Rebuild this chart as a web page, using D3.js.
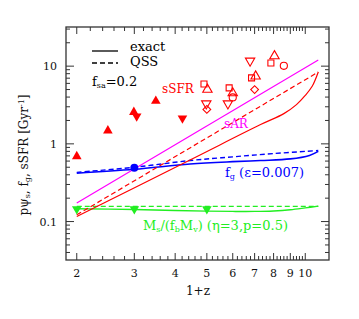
<!DOCTYPE html>
<html>
<head>
<meta charset="utf-8">
<script src="https://cdn.jsdelivr.net/npm/d3@7"></script>
<style>
body { margin: 0; background: #fff; }
text { font-family: "DejaVu Serif", serif; }
</style>
</head>
<body>
<script>
// curves: [1+z, value]
var sarLine      = [[2, 0.173], [10.96, 12.0]];
var ssfrQss      = [[2, 0.122], [10.96, 8.4]];
var ssfrExact    = [[2, 0.116], [4.44, 0.62], [7.3, 1.77], [8.6, 2.45], [9.4, 3.2], [10.0, 4.2], [10.5, 5.5], [10.96, 8.4]];
var fgQss        = [[2, 0.43], [3, 0.5], [4.44, 0.61], [6, 0.68], [8, 0.75], [10.96, 0.82]];
var fgExact      = [[2, 0.418], [3, 0.47], [4.44, 0.55], [6, 0.59], [7.3, 0.61], [9, 0.64], [10.3, 0.71], [10.96, 0.8]];
var msQss        = [[2, 0.157], [10.96, 0.157]];
var msExact      = [[2, 0.146], [3, 0.143], [4, 0.139], [5, 0.136], [6, 0.135], [7, 0.135], [8, 0.137], [9, 0.142], [10, 0.15], [10.96, 0.158]];

// observed sSFR points
var obsFilledUp   = [[2, 0.69], [2.49, 1.48], [2.99, 2.56], [3.49, 3.55]];
var obsFilledDown = [[3.05, 2.27], [4.21, 2.14]];
var obsSquare     = [[4.9, 5.9], [5.85, 5.25], [6.85, 7.06], [7.85, 11.0]];
var obsUp         = [[5.02, 5.0], [6.0, 4.5], [7.05, 7.4], [8.05, 13.5]];
var obsDown       = [[4.98, 3.3], [5.8, 3.3], [6.78, 11.7]];
var obsDiamond    = [[5.0, 2.77], [7.0, 5.0]];
var obsCircle     = [[6.0, 3.95], [8.6, 10.1]];

var fgPoint   = [[3, 0.494]];
var msPoints  = [[2, 0.145], [3, 0.145], [5, 0.145]];

var xTickLabels = [2, 3, 4, 5, 6, 7, 8, 9, 10];
var yTickLabels = [0.1, 1, 10];

var W = 359, H = 319;
var margin = {top: 27, right: 30, bottom: 59, left: 66};
var width = W - margin.left - margin.right,
    height = H - margin.top - margin.bottom;

var svg = d3.select("body").append("svg")
    .attr("width", W).attr("height", H);
var g = svg.append("g")
    .attr("transform", "translate(" + margin.left + "," + margin.top + ")");

var x = d3.scaleLog().domain([1.854, 11.82]).range([0, width]);
var y = d3.scaleLog().domain([0.032, 31.9]).range([height, 0]);

var red = "#ff0000", mag = "#ff00ff", blue = "#0000ff", green = "#22ee22", ink = "#333";

// ticks
var xMinor = [];
for (var v = 2; v <= 10.001; v += 0.2) xMinor.push(+v.toFixed(1));
var yMinor = [];
[0.01, 0.1, 1, 10].forEach(function(dec) {
  for (var k = 1; k <= 9; k++) {
    var t = dec * k;
    if (t >= 0.032 && t <= 31.9) yMinor.push(t);
  }
});

function isMajorX(t) { return Math.abs(t - Math.round(t)) < 1e-6; }
function isMajorY(t) { return yTickLabels.some(function(m) { return Math.abs(t / m - 1) < 1e-6; }); }

xMinor.forEach(function(t) {
  var L = isMajorX(t) ? 7 : 4;
  g.append("line").attr("x1", x(t)).attr("x2", x(t)).attr("y1", height).attr("y2", height - L)
    .attr("stroke", ink).attr("stroke-width", 1);
  g.append("line").attr("x1", x(t)).attr("x2", x(t)).attr("y1", 0).attr("y2", L)
    .attr("stroke", ink).attr("stroke-width", 1);
});
yMinor.forEach(function(t) {
  var L = isMajorY(t) ? 8 : 4;
  g.append("line").attr("x1", 0).attr("x2", L).attr("y1", y(t)).attr("y2", y(t))
    .attr("stroke", ink).attr("stroke-width", 1);
  g.append("line").attr("x1", width).attr("x2", width - L).attr("y1", y(t)).attr("y2", y(t))
    .attr("stroke", ink).attr("stroke-width", 1);
});

g.selectAll(".xl").data(xTickLabels).enter().append("text")
  .attr("x", function(d) { return x(d); })
  .attr("y", height + 17)
  .attr("text-anchor", "middle")
  .style("font-size", "11px").attr("fill", "#111")
  .text(function(d) { return d; });

g.selectAll(".yl").data(yTickLabels).enter().append("text")
  .attr("x", -9)
  .attr("y", function(d) { return y(d) + 4; })
  .attr("text-anchor", "end")
  .style("font-size", "11px").attr("fill", "#111")
  .text(function(d) { return d; });

// frame
g.append("rect").attr("width", width).attr("height", height)
  .attr("fill", "none").attr("stroke", ink).attr("stroke-width", 1.3);

// lines
var line = d3.line()
  .x(function(d) { return x(d[0]); })
  .y(function(d) { return y(d[1]); })
  .curve(d3.curveCatmullRom.alpha(0.5));

function path(data, col, dash, w) {
  g.append("path").datum(data)
    .attr("d", line)
    .attr("fill", "none")
    .attr("stroke", col)
    .attr("stroke-width", w || 1.2)
    .attr("stroke-dasharray", dash ? "5,3" : null);
}

path(msQss, green, true);
path(msExact, green, false, 1.4);
path(fgQss, blue, true, 1.4);
path(fgExact, blue, false, 1.6);
path(sarLine, mag, false);
path(ssfrQss, red, true);
path(ssfrExact, red, false);

// markers
function sym(data, type, size, col, fill, rot) {
  g.selectAll(null).data(data).enter().append("path")
    .attr("d", d3.symbol().type(type).size(size))
    .attr("transform", function(d) {
      return "translate(" + x(d[0]) + "," + y(d[1]) + ")" + (rot ? " rotate(" + rot + ")" : "");
    })
    .attr("fill", fill ? col : "none")
    .attr("stroke", col)
    .attr("stroke-width", fill ? 0 : 1.1);
}

sym(obsFilledUp, d3.symbolTriangle, 40, red, true);
sym(obsFilledDown, d3.symbolTriangle, 40, red, true, 180);
sym(obsSquare, d3.symbolSquare, 36, red, false);
sym(obsUp, d3.symbolTriangle, 38, red, false);
sym(obsDown, d3.symbolTriangle, 38, red, false, 180);
sym(obsDiamond, d3.symbolSquare, 30, red, false, 45);
sym(obsCircle, d3.symbolCircle, 40, red, false);
sym(fgPoint, d3.symbolCircle, 50, blue, true);
sym(msPoints, d3.symbolTriangle, 40, green, true, 180);

// legend
g.append("line").attr("x1", 92 - margin.left).attr("x2", 118 - margin.left)
  .attr("y1", 51 - margin.top).attr("y2", 51 - margin.top).attr("stroke", "#000").attr("stroke-width", 1.3);
g.append("line").attr("x1", 92 - margin.left).attr("x2", 118 - margin.left)
  .attr("y1", 63 - margin.top).attr("y2", 63 - margin.top).attr("stroke", "#000").attr("stroke-width", 1.3)
  .attr("stroke-dasharray", "5,3");

function label(tx, ty, col, parts, size) {
  var t = svg.append("text").attr("x", tx).attr("y", ty).attr("fill", col)
    .style("font-size", (size || 13) + "px");
  parts.forEach(function(p) {
    var s = t.append("tspan").text(p[0]);
    if (p[1] === "sub") s.attr("baseline-shift", "-30%").style("font-size", "8px");
    if (p[1] === "sup") s.attr("baseline-shift", "45%").style("font-size", "8px");
  });
  return t;
}

label(130, 51, "#000", [["exact"]]);
label(130, 66, "#000", [["QSS"]]);
label(92, 86, "#000", [["f"], ["sa", "sub"], ["=0.2"]]);
label(162, 93, red, [["sSFR"]], 12);
label(224, 128, mag, [["sAR"]], 12);
label(225, 177, blue, [["f"], ["g", "sub"], [" (\u03b5=0.007)"]]);
label(143, 230, green, [["M"], ["s", "sub"], ["/(f"], ["b", "sub"], ["M"], ["v", "sub"], [") (\u03b7=3,p=0.5)"]]);
label(198, 295, "#111", [["1+z"]], 12).attr("text-anchor", "middle");

var yl = svg.append("text")
  .attr("transform", "translate(28,155) rotate(-90)")
  .attr("text-anchor", "middle")
  .attr("fill", "#111")
  .style("font-size", "12px");
yl.append("tspan").text("p\u03c8");
yl.append("tspan").text("s").attr("baseline-shift", "-30%").style("font-size", "8px");
yl.append("tspan").text(", f");
yl.append("tspan").text("g").attr("baseline-shift", "-30%").style("font-size", "8px");
yl.append("tspan").text(", sSFR [Gyr");
yl.append("tspan").text("-1").attr("baseline-shift", "45%").style("font-size", "8px");
yl.append("tspan").text("]");
</script>
</body>
</html>
